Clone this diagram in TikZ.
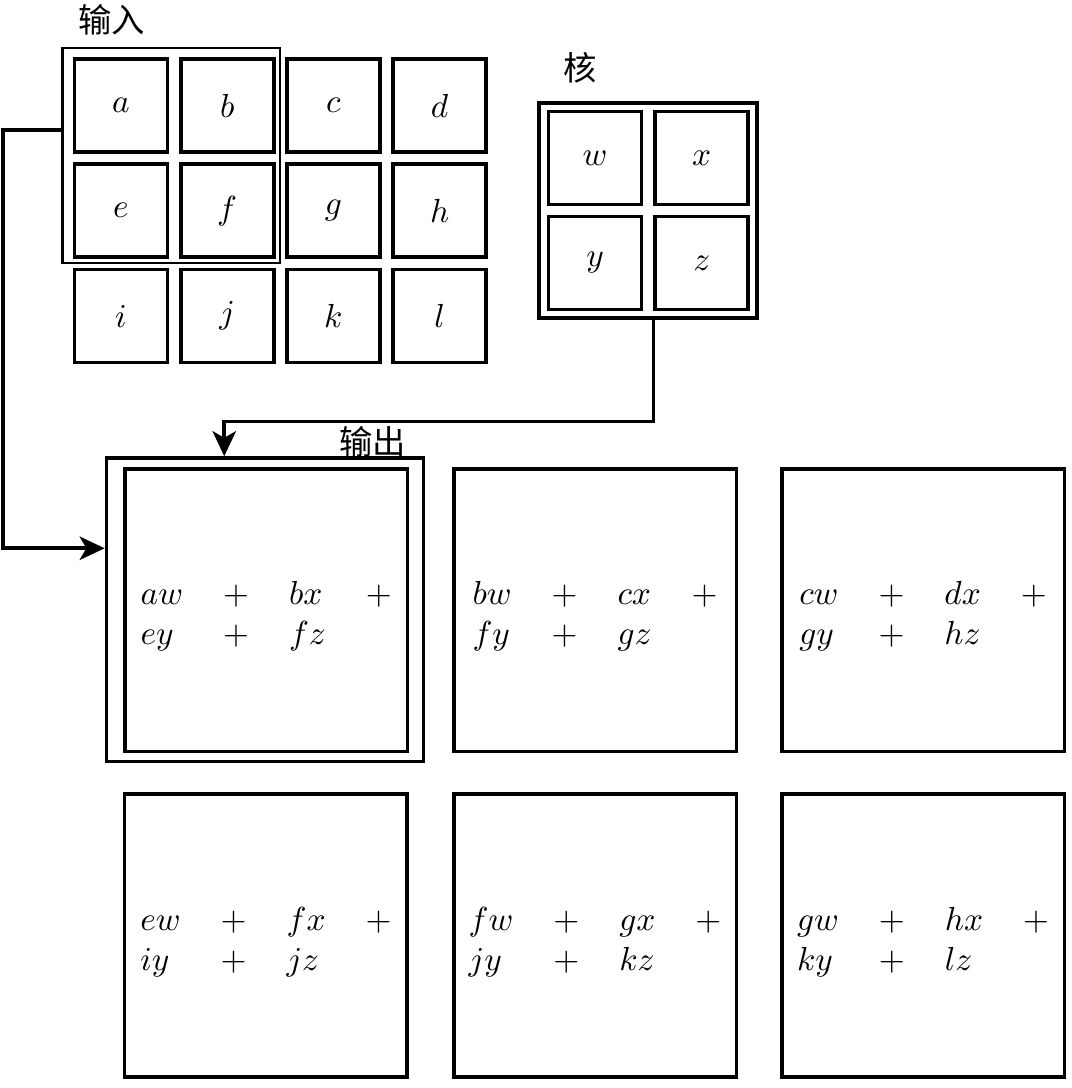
\documentclass[tikz,border=0pt]{standalone}
\usepackage{fontspec}
\newfontfamily\cjk{Noto Sans CJK SC}
\usetikzlibrary{arrows.meta}
\tikzset{every path/.style={line width=1.1pt},
  cell/.style={draw, minimum size=0.98cm, inner sep=0pt},
  sum/.style={draw, minimum size=2.98cm, inner sep=0pt},
  conn/.style={-{Stealth[length=7.5pt,width=7pt,inset=2pt]}},
  title/.style={font=\cjk, inner sep=0pt}}
\newcommand\terms[4]{\begin{tabular}{llll}$#1w$&$+$&$#2x$&$+$\\$#3y$&$+$&$#4z$\end{tabular}}

\begin{document}
\begin{tikzpicture}
   \useasboundingbox (0,0) rectangle (11.30,-11.47);
   % input
   \node[title] (lin) at (1.18,-0.21) {输入};
   \node[cell] (a) at (1.275,-1.112) {$a$};
   \node[cell] (b) at (2.395,-1.112) {$b$};
   \node[cell] (c) at (3.515,-1.112) {$c$};
   \node[cell] (d) at (4.635,-1.112) {$d$};
   \node[cell] (e) at (1.275,-2.222) {$e$};
   \node[cell] (f) at (2.395,-2.222) {$f$};
   \node[cell] (g) at (3.515,-2.222) {$g$};
   \node[cell] (h) at (4.635,-2.222) {$h$};
   \node[cell] (i) at (1.275,-3.332) {$i$};
   \node[cell] (j) at (2.395,-3.332) {$j$};
   \node[cell] (k) at (3.515,-3.332) {$k$};
   \node[cell] (l) at (4.635,-3.332) {$l$};
   \node[draw, line width=0.8pt, minimum width=2.293cm, minimum height=2.267cm] (win) at (1.806,-1.639) {};
   % kernel
   \node[title] (lker) at (6.115,-0.717) {核};
   \node[cell] (w) at (6.273,-1.666) {$w$};
   \node[cell] (x) at (7.398,-1.666) {$x$};
   \node[cell] (y) at (6.273,-2.773) {$y$};
   \node[cell] (z) at (7.398,-2.773) {$z$};
   \node[draw, minimum width=2.298cm, minimum height=2.273cm] (kernel) at (6.83,-2.219) {};
   % output
   \node[title] (lout) at (3.927,-4.657) {输出};
   \node[draw, minimum width=3.342cm, minimum height=3.2cm] (o1frame) at (2.794,-6.429) {};
   \node[sum] (o1) at (2.807,-6.431) {};
   \node[sum] (o2) at (6.273,-6.431) {};
   \node[sum] (o3) at (9.731,-6.431) {};
   \node[sum] (o4) at (2.804,-9.863) {};
   \node[sum] (o5) at (6.273,-9.863) {};
   \node[sum] (o6) at (9.731,-9.863) {};
   \node (t1) at ([yshift=-0.07cm]o1) {\terms{a}{b}{e}{f}};
   \node (t2) at ([yshift=-0.07cm]o2) {\terms{b}{c}{f}{g}};
   \node (t3) at ([yshift=-0.07cm]o3) {\terms{c}{d}{g}{h}};
   \node (t4) at ([yshift=-0.07cm]o4) {\terms{e}{f}{i}{j}};
   \node (t5) at ([yshift=-0.07cm]o5) {\terms{f}{g}{j}{k}};
   \node (t6) at ([yshift=-0.07cm]o6) {\terms{g}{h}{k}{l}};
   % connectors
   \draw[conn] (win.167) -- ++(-0.617,0) |- (o1frame.159);
   \draw[conn] (kernel.south -| z.west) -- ++(0,-1.07) -| ([xshift=-0.43cm]o1frame.north);
\end{tikzpicture}
\end{document}
